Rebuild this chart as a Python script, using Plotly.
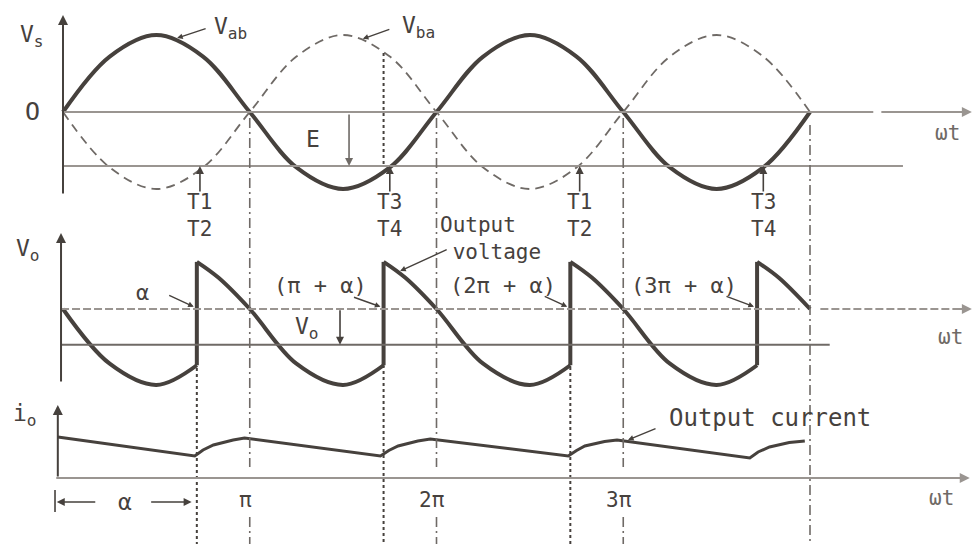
import plotly.graph_objects as go

W, H = 975, 544

# ---------------- data (ωt in electrical degrees, voltages per unit of Vm) ----------------
theta_src = [0, 45, 90, 135, 180, 225, 270, 315, 360, 405, 450, 495, 540, 585, 630, 675, 720]
v_ab = [0, 0.72, 1.0, 0.72, 0, -0.72, -1.0, -0.72, 0, 0.72, 1.0, 0.72, 0, -0.72, -1.0, -0.72, 0]
v_ba = [0, -0.72, -1.0, -0.72, 0, 0.72, 1.0, 0.72, 0, -0.72, -1.0, -0.72, 0, 0.72, 1.0, 0.72, 0]
back_emf = -0.70                      # E level, below the ωt axis
gate_marks = [132, 315, 498, 675]     # gating instants marked under the source waves
gate_names = ["T1<br>T2", "T3<br>T4", "T1<br>T2", "T3<br>T4"]

firing = [129, 309, 489, 669]         # α, π+α, 2π+α, 3π+α
firing_names = ["α", "(π + α)", "(2π + α)", "(3π + α)"]
vo_lead_theta = [0, 45, 90, 129]      # before the first firing
vo_lead = [0, -0.72, -1.0, -0.74]
seg_offset = [0, 21, 51, 96, 141, 180]   # one conduction interval after each firing
seg_vo = [0.62, 0.41, 0.0, -0.72, -1.0, -0.74]
vo_mean = -0.47
theta_end = 720

io_theta = [-5, 127, 135, 145, 164, 175, 306, 314, 323, 342, 354,
            487, 495, 503, 522, 534, 662, 670, 681, 700, 715]
io_vals = [0.82, 0.44, 0.56, 0.66, 0.76, 0.80, 0.44, 0.55, 0.64, 0.74, 0.78,
           0.44, 0.55, 0.64, 0.73, 0.76, 0.40, 0.52, 0.62, 0.71, 0.74]

pi_ticks = [180, 360, 540, 720]
pi_labels = ["π", "2π", "3π"]

# ---------------- styling ----------------
INK = "#46413d"
GREY = "#9a9591"
MID = "#6f6a66"
FONT = "DejaVu Sans Mono"


def fy(px):
    """vertical canvas position (px from the top) -> paper fraction"""
    return 1 - px / H


fig = go.Figure()

# source voltages
fig.add_trace(go.Scatter(x=theta_src, y=v_ab, mode="lines", yaxis="y",
                         line=dict(color=INK, width=4, shape="spline")))
fig.add_trace(go.Scatter(x=theta_src, y=v_ba, mode="lines", yaxis="y",
                         line=dict(color=MID, width=1.8, shape="spline", dash="9px,6px")))

# output voltage
fig.add_trace(go.Scatter(x=vo_lead_theta, y=vo_lead, mode="lines", yaxis="y2",
                         line=dict(color=INK, width=4, shape="spline")))
prev_end = vo_lead[-1]
for f in firing:
    xs = [f + d for d in seg_offset if f + d <= theta_end]
    ys = [v for d, v in zip(seg_offset, seg_vo) if f + d <= theta_end]
    fig.add_trace(go.Scatter(x=[f, f], y=[prev_end, ys[0]], mode="lines", yaxis="y2",
                             line=dict(color=INK, width=4)))
    fig.add_trace(go.Scatter(x=xs, y=ys, mode="lines", yaxis="y2",
                             line=dict(color=INK, width=4, shape="spline")))
    prev_end = ys[-1]

# output current
fig.add_trace(go.Scatter(x=io_theta, y=io_vals, mode="lines", yaxis="y3",
                         line=dict(color=INK, width=3)))

shapes = []
ann = []


def hline(x0, x1, y, yref, color, width, dash="solid"):
    shapes.append(dict(type="line", xref="x", yref=yref, x0=x0, x1=x1, y0=y, y1=y,
                       line=dict(color=color, width=width, dash=dash)))


def vline(x, py0, py1, dash, color=MID, width=1.6):
    shapes.append(dict(type="line", xref="x", yref="paper", x0=x, x1=x,
                       y0=fy(py0), y1=fy(py1), line=dict(color=color, width=width, dash=dash)))


def arrow(x, y, yref, ax, ay, color=INK, width=1.8, size=1.0, head=2):
    ann.append(dict(x=x, y=y, xref="x", yref=yref, ax=ax, ay=ay, showarrow=True,
                    arrowhead=head, arrowsize=size, arrowwidth=width, arrowcolor=color,
                    text=""))


def label(x, py, text, size=21, anchor="center", color=INK, align="center"):
    ann.append(dict(x=x, y=fy(py), xref="x", yref="paper", text=text, showarrow=False,
                    xanchor=anchor, yanchor="middle", align=align,
                    font=dict(family=FONT, size=size, color=color)))


# ----- top panel: vs -----
arrow(0, 1.26, "y", 0, 180, width=2)
hline(0, 781, 0, "y", GREY, 2)
arrow(876, 0, "y", -92, 0, color=GREY, width=2)
hline(0, 809.6, back_emf, "y", GREY, 2)
arrow(275.7, back_emf, "y", 0, -53, color=MID, width=1.6)
label(241, 139, "E", 23)
for g, name in zip(gate_marks, gate_names):
    arrow(g, back_emf, "y", 0, 27, width=1.6)
    label(g, 216, name, 21)
label(-30, 36, "V<sub>s</sub>", 23)
label(-29, 112, "O", 25)
label(144, 28, "V<sub>ab</sub>", 23, "left")
arrow(110, 0.96, "y", 30, -10, width=1.4, size=0.8)
label(325, 27, "V<sub>ba</sub>", 23, "left")
arrow(289, 0.95, "y", 28, -10, width=1.4, size=0.8)
label(853, 133, "ωt", 21, color=MID)

# ----- middle panel: vo -----
arrow(-1.9, 1.0, "y2", 0, 150, width=2)
hline(-1.9, 710, 0, "y2", GREY, 2, "8px,3px")
hline(730, 872, 0, "y2", GREY, 2, "8px,3px")
arrow(876, 0, "y2", -14, 0, color=GREY, width=2)
hline(-1.9, 739, vo_mean, "y2", MID, 2)
arrow(267, vo_mean, "y2", 0, -36, color=INK, width=1.6)
label(235, 328, "V<sub>o</sub>", 23)
label(-34, 250, "V<sub>o</sub>", 23)
label(855, 337, "ωt", 21, color=MID)
name_pos = [(77, 292), (248, 285), (424, 285), (599, 285)]
tail_off = [(-26, -12), (-28, -10), (-24, -11), (-29, -11)]
for f, name, (lx, ly), (tx, ty) in zip(firing, firing_names, name_pos, tail_off):
    label(lx, ly, name, 22)
    arrow(f - 3, 0.03, "y2", tx, ty, width=1.4, size=0.8)
label(361, 238, "Output<br> voltage", 21, "left", align="left")
arrow(325, 0.5, "y2", 48, -22, width=1.4, size=0.8)

# ----- bottom panel: io -----
arrow(-5, 1.46, "y3", 0, 73, width=2)
arrow(874, 0, "y3", -915, 0, color=GREY, width=2)
label(-37, 415, "i<sub>o</sub>", 23)
label(582, 418, "Output current", 24, "left")
arrow(544.6, 0.76, "y3", 29, -12, width=1.4, size=0.8)
for t, name in zip(pi_ticks, pi_labels):
    label(t - 4, 500, name, 21)
label(847, 498, "ωt", 21, color=MID)
# α span below the axis
shapes.append(dict(type="line", xref="x", yref="paper", x0=-7.7, x1=-7.7,
                   y0=fy(490), y1=fy(512), line=dict(color=INK, width=1.6)))
ann.append(dict(x=-6, y=fy(502), xref="x", yref="paper", ax=40, ay=0, showarrow=True,
                arrowhead=2, arrowwidth=1.6, arrowcolor=INK, text=""))
ann.append(dict(x=124, y=fy(502), xref="x", yref="paper", ax=-42, ay=0, showarrow=True,
                arrowhead=2, arrowwidth=1.6, arrowcolor=INK, text=""))
label(60, 502, "α", 23)

# ----- vertical guide lines -----
dashdot = "10px,4px,2px,4px"
for t in pi_ticks[:3]:
    vline(t, 118, 467, dashdot)
    vline(t, 517, 544, dashdot)
vline(pi_ticks[3], 125, 544, dashdot)
vline(firing[0], 368, 544, "3px,3px", INK, 2)
vline(firing[1], 53, 167, "3px,3px", INK, 2)
vline(firing[1], 365, 544, "3px,3px", INK, 2)
vline(firing[2], 367, 544, "3px,3px", INK, 2)

fig.update_layout(
    width=W, height=H, margin=dict(l=0, r=0, t=0, b=0),
    paper_bgcolor="white", plot_bgcolor="white", showlegend=False,
    xaxis=dict(range=[-60.72, 879.04], visible=False, domain=[0, 1], anchor="y3", fixedrange=True),
    yaxis=dict(range=[-1.2078, 1.4545], domain=[1 - 205 / H, 1], visible=False, anchor="x"),
    yaxis2=dict(range=[-1.1974, 1.3684], domain=[1 - 400 / H, 1 - 205 / H], visible=False, anchor="x"),
    yaxis3=dict(range=[-1.32, 1.56], domain=[0, 1 - 400 / H], visible=False, anchor="x"),
    shapes=shapes, annotations=ann,
)

fig.write_html("out.html")
